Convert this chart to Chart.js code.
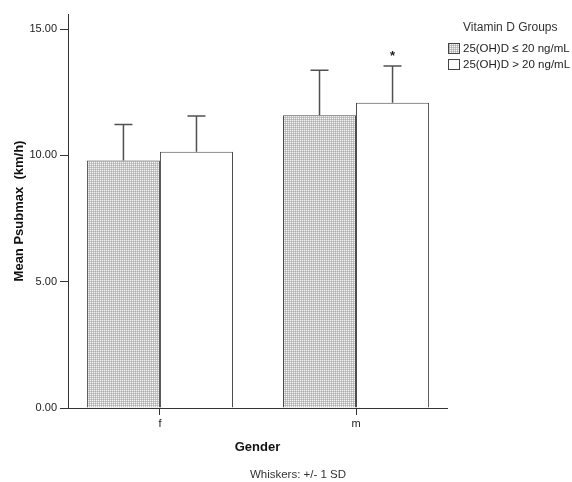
<!DOCTYPE html>
<html>
<head>
<meta charset="utf-8">
<script src="https://cdn.jsdelivr.net/npm/chart.js@4.4.1/dist/chart.umd.min.js"></script>
<style>
    html, body { margin: 0; padding: 0; background: #fff; }
    #wrap { width: 572px; height: 482px; }
</style>
</head>
<body>
<div id="wrap"><canvas id="chart" width="572" height="482"></canvas></div>
<script>
    "use strict";

    var genders = ["f", "m"];
    var groupLabels = ["25(OH)D \u2264 20 ng/mL", "25(OH)D > 20 ng/mL"];
    var meansLow = [9.80, 11.59];
    var meansHigh = [10.15, 12.09];
    var sdLow = [1.42, 1.78];
    var sdHigh = [1.41, 1.45];
    var marksLow = ["", ""];
    var marksHigh = ["", "*"];
    var yTicks = [0, 5, 10, 15];

    var FONT = "'Liberation Sans', Arial, sans-serif";
    Chart.defaults.font.family = FONT;

    // fine dotted grid fill like the SPSS pattern
    function makePattern() {
        var p = document.createElement("canvas");
        p.width = 2;
        p.height = 2;
        var c = p.getContext("2d");
        c.fillStyle = "#c6c6c6";
        c.fillRect(0, 0, 2, 2);
        c.fillStyle = "#f6f6f6";
        c.fillRect(0, 0, 1, 1);
        c.fillStyle = "#b0b0b0";
        c.fillRect(1, 1, 1, 1);
        return c.createPattern(p, "repeat");
    }
    var dotted = makePattern();

    var errorBars = {
        id: "errorBars",
        afterDatasetsDraw: function (chart) {
            var ctx = chart.ctx;
            var yScale = chart.scales.y;
            chart.data.datasets.forEach(function (ds, di) {
                var meta = chart.getDatasetMeta(di);
                meta.data.forEach(function (bar, i) {
                    var top = yScale.getPixelForValue(ds.data[i] + ds.sd[i]);
                    ctx.save();
                    ctx.strokeStyle = "#505050";
                    ctx.lineWidth = 1.5;
                    ctx.beginPath();
                    ctx.moveTo(bar.x, bar.y);
                    ctx.lineTo(bar.x, top);
                    ctx.moveTo(bar.x - 9, top);
                    ctx.lineTo(bar.x + 9, top);
                    ctx.stroke();
                    if (ds.marks[i]) {
                        ctx.fillStyle = "#222";
                        ctx.font = "bold 13px " + FONT;
                        ctx.textAlign = "center";
                        ctx.textBaseline = "alphabetic";
                        ctx.fillText(ds.marks[i], bar.x, top - 6);
                    }
                    ctx.restore();
                });
            });
        }
    };

    var sideLegend = {
        id: "sideLegend",
        afterDraw: function (chart) {
            var ctx = chart.ctx;
            ctx.save();
            ctx.fillStyle = "#333";
            ctx.font = "12px " + FONT;
            ctx.textBaseline = "middle";
            ctx.textAlign = "left";
            ctx.fillText("Vitamin D Groups", 463, 28);
            chart.data.datasets.forEach(function (ds, i) {
                var y = 48 + i * 16;
                ctx.fillStyle = ds.backgroundColor;
                ctx.fillRect(448, y - 5, 12, 11);
                ctx.strokeStyle = "#444";
                ctx.lineWidth = 1;
                ctx.strokeRect(448.5, y - 4.5, 11, 10);
                ctx.fillStyle = "#222";
                ctx.font = "11.5px " + FONT;
                ctx.fillText(ds.label, 463, y + 1);
            });
            ctx.font = "11.5px " + FONT;
            ctx.fillStyle = "#333";
            ctx.textAlign = "center";
            ctx.fillText("Whiskers: +/- 1 SD", 298, 475);
            ctx.restore();
        }
    };

    new Chart(document.getElementById("chart"), {
        type: "bar",
        data: {
            labels: genders,
            datasets: [
                {
                    label: groupLabels[0],
                    data: meansLow,
                    sd: sdLow,
                    marks: marksLow,
                    backgroundColor: dotted,
                    borderColor: "#4a4a4a",
                    borderWidth: 1,
                    categoryPercentage: 0.745,
                    barPercentage: 1,
                },
                {
                    label: groupLabels[1],
                    data: meansHigh,
                    sd: sdHigh,
                    marks: marksHigh,
                    backgroundColor: "#ffffff",
                    borderColor: "#4a4a4a",
                    borderWidth: 1,
                    categoryPercentage: 0.745,
                    barPercentage: 1,
                },
            ],
        },
        options: {
            responsive: false,
            animation: false,
            devicePixelRatio: 1,
            layout: {
                padding: { top: 14, right: 125, left: 0, bottom: 24 },
            },
            plugins: {
                legend: { display: false },
                tooltip: { enabled: false },
            },
            scales: {
                x: {
                    offset: true,
                    // SPSS leaves a bit less margin at the ends than half a category
                    afterBuildTicks: function (scale) {
                        scale._startValue = -0.469;
                        scale._valueRange = 1.933;
                    },
                    grid: {
                        drawOnChartArea: false,
                        offset: false,
                        tickLength: 7,
                        color: "#333",
                    },
                    border: { color: "#333" },
                    ticks: { color: "#222", font: { size: 11 }, padding: 2 },
                    title: {
                        display: true,
                        text: "Gender",
                        color: "#111",
                        font: { size: 13, weight: "bold" },
                        padding: { top: 0, bottom: 3 },
                    },
                    afterFit: function (scale) {
                        scale.height = 50;
                    },
                },
                y: {
                    min: 0,
                    max: 15.6,
                    afterBuildTicks: function (scale) {
                        scale.ticks = yTicks.map(function (v) {
                            return { value: v };
                        });
                    },
                    grid: {
                        drawOnChartArea: false,
                        tickLength: 8,
                        color: "#333",
                    },
                    border: { color: "#333" },
                    ticks: {
                        color: "#222",
                        font: { size: 11 },
                        padding: 3,
                        callback: function (v) {
                            return Number(v).toFixed(2);
                        },
                    },
                    title: {
                        display: true,
                        text: "Mean Psubmax  (km/h)",
                        color: "#111",
                        font: { size: 13, weight: "bold" },
                        padding: { top: 12, bottom: 0 },
                    },
                    afterFit: function (scale) {
                        scale.width = 68;
                    },
                },
            },
        },
        plugins: [errorBars, sideLegend],
    });
</script>
</body>
</html>
